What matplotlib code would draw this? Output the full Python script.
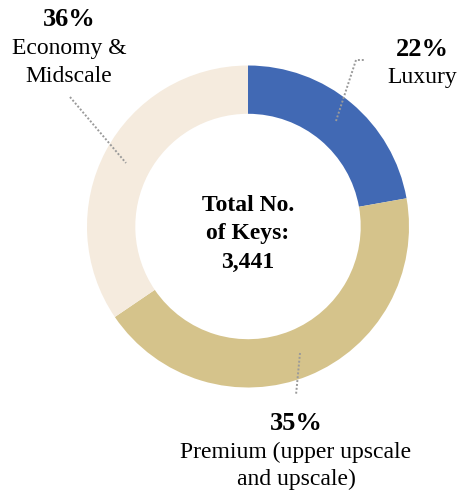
import matplotlib.pyplot as plt

# slice shares as drawn (share of 3,441 keys), and the labels printed on the chart
segments = ['Luxury', 'Premium', 'Economy']
shares = [22.2, 43.3, 34.5]
pct_labels = ['22%', '35%', '36%']
names = ['Luxury', 'Premium (upper upscale\nand upscale)', 'Economy &\nMidscale']
colors = ['#4169B4', '#D5C38B', '#F5EBDE']
total_keys = '3,441'

W, H = 459, 493
plt.rcParams['font.family'] = ['Liberation Serif', 'DejaVu Serif']

fig = plt.figure(figsize=(W / 100, H / 100), dpi=100)
ax = fig.add_axes([0, 0, 1, 1])


def Y(py):
    # pixel row from the top -> data y
    return H - py


cx, cy, r = 248, Y(226.5), 161
ax.pie(shares, colors=colors, startangle=90, counterclock=False,
       center=(cx, cy), radius=r,
       wedgeprops=dict(width=r * 0.30, linewidth=0))
ax.set_xlim(0, W)
ax.set_ylim(0, H)
ax.set_aspect('equal')
ax.axis('off')

# centre text
ax.text(cx, Y(234), 'Total No.\nof Keys:\n' + total_keys, ha='center', va='center',
        fontsize=17, fontweight='bold', linespacing=1.45)

lead = dict(color='#9A9A9A', linestyle=(0, (1, 1.0)), linewidth=1.4)

# Luxury
ax.plot([336, 356, 364], [Y(121), Y(60), Y(60)], **lead)
ax.text(422, Y(49), pct_labels[0], ha='center', va='center', fontsize=19, fontweight='bold')
ax.text(422, Y(77), names[0], ha='center', va='center', fontsize=17)

# Premium
ax.plot([300, 296], [Y(353), Y(395)], **lead)
ax.text(296, Y(423), pct_labels[1], ha='center', va='center', fontsize=19, fontweight='bold')
ax.text(296, Y(466), names[1], ha='center', va='center', fontsize=17, linespacing=1.4)

# Economy & Midscale
ax.plot([70, 126], [Y(97), Y(163)], **lead)
ax.text(69, Y(20), pct_labels[2], ha='center', va='center', fontsize=19, fontweight='bold')
ax.text(69, Y(62.5), names[2], ha='center', va='center', fontsize=17, linespacing=1.42)

fig.savefig('out.png', dpi=100)
